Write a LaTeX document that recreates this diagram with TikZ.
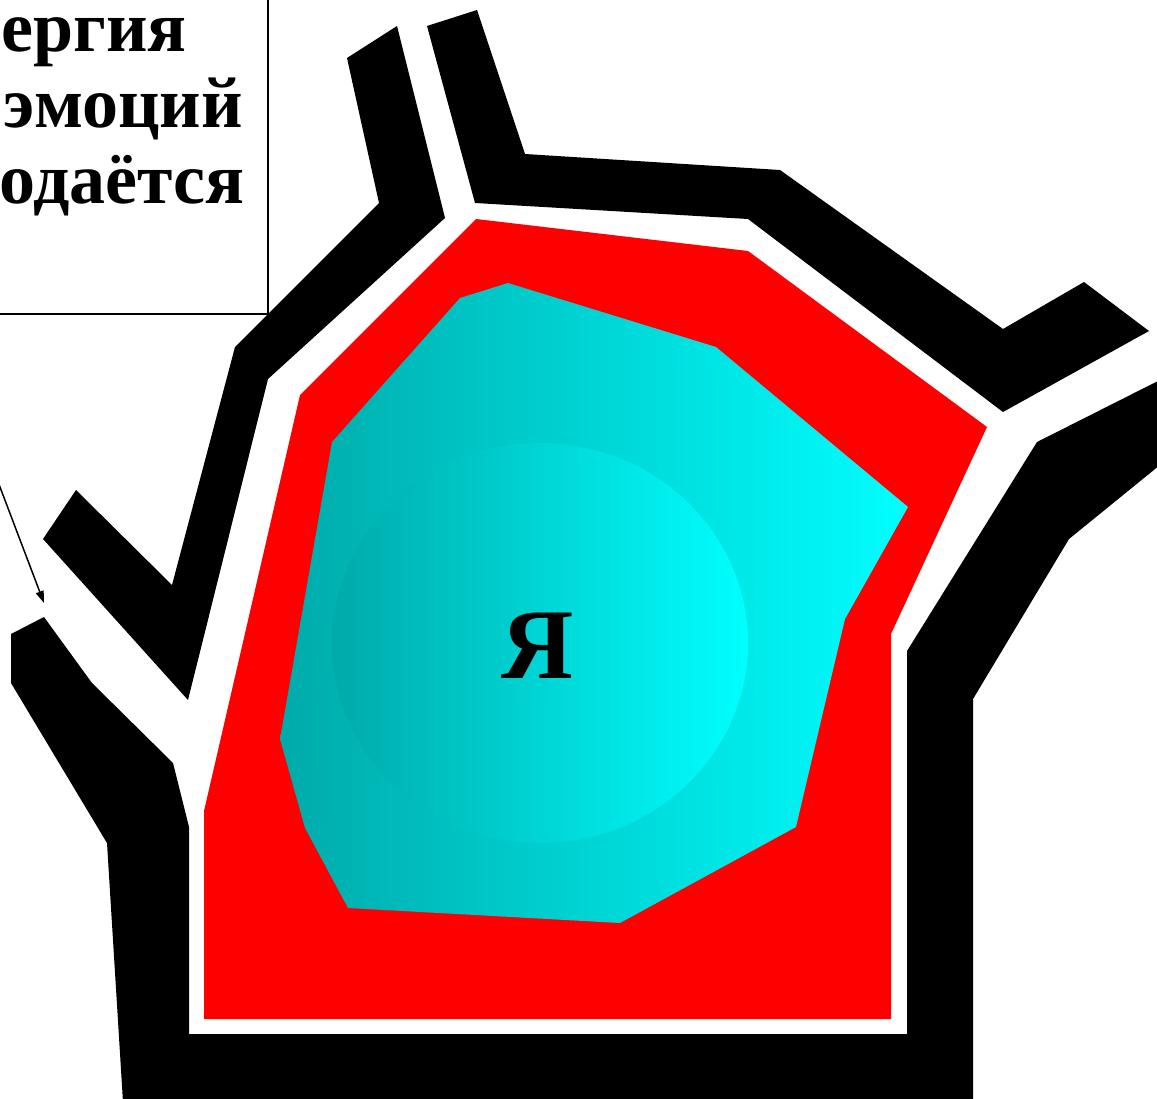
\documentclass[tikz,border=0pt]{standalone}
\usepackage{fontspec}
\setmainfont{Liberation Serif}
\usetikzlibrary{arrows.meta}
\definecolor{tealdark}{RGB}{0,170,170}
\definecolor{cyanbright}{RGB}{0,255,255}
\tikzset{
  wall/.style={fill=black,draw=none},
  inner wall/.style={fill=red,draw=none},
  core/.style={draw=none,left color=tealdark,right color=cyanbright},
  label line/.style={font=\fontsize{72}{76}\selectfont\bfseries,inner sep=0pt,anchor=base east},
  boxline/.style={draw=black,line width=2pt},
}
\begin{document}
\begin{tikzpicture}[x=1pt,y=-1pt]
\useasboundingbox (0,0) rectangle (1157,1099);
\clip (0,0) rectangle (1157,1099);
% text box
\draw[boxline] (-30,-30) rectangle (268,314);
\node[label line] (t1) at (187,52) {ергия};
\node[label line] (t2) at (243,128) {эмоций};
\node[label line] (t3) at (245,204) {одаётся};
% arrow
\coordinate (astart) at (-8,466);
\coordinate (aend) at (44,603);
\draw[line width=1.5pt,-{Triangle[length=12pt,width=8pt]}] (astart) -- (aend);
% black walls
\path[wall] (347,58) -- (397,26) -- (445,218) -- (268,379) -- (188,700) -- (43,539) -- (76,490) -- (172,585) -- (235,347) -- (379,203) -- cycle;
\path[wall] (427,26) -- (477,10) -- (525,154) -- (780,170) -- (1003,329) -- (1084,282) -- (1149,331) -- (1003,412) -- (748,219) -- (475,203) -- cycle;
\path[wall] (1037,442) -- (1160,380) -- (1160,465) -- (1069,539) -- (973,699) -- (973,1102) -- (123,1102) -- (107,843) -- (11,683) -- (11,634) -- (44,617) -- (92,683) -- (173,763) -- (189,827) -- (189,1034) -- (907,1034) -- (907,651) -- cycle;
% red layer
\path[inner wall] (476,219) -- (748,251) -- (987,427) -- (891,634) -- (891,1019) -- (204,1019) -- (204,811) -- (300,395) -- cycle;
% cyan core
\path[core] (460,298) -- (508,283) -- (716,347) -- (908,507) -- (845,619) -- (796,827) -- (620,923) -- (348,908) -- (305,828) -- (280,739) -- (332,442) -- cycle;
\path[core] (540,643) ellipse [x radius=208, y radius=200];
\node[font=\fontsize{100}{110}\selectfont\bfseries,inner sep=0pt,anchor=base] (ya) at (538,678) {Я};
\end{tikzpicture}
\end{document}
